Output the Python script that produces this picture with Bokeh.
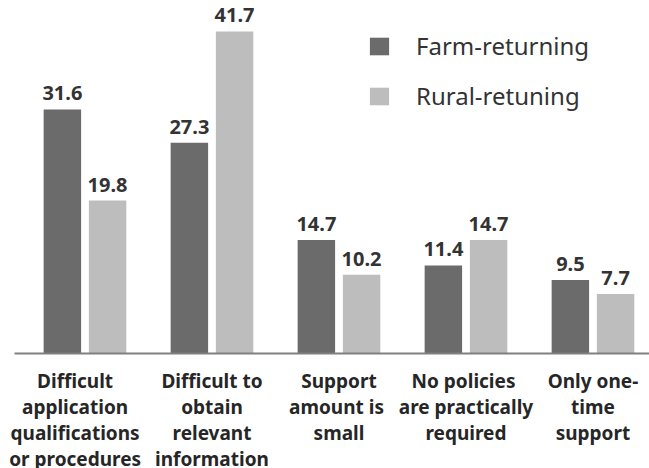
from bokeh.plotting import figure
from bokeh.models import ColumnDataSource, Range1d, FixedTicker, Legend, LegendItem
from bokeh.transform import dodge
from bokeh.core.properties import value
from bokeh.embed import file_html
from bokeh.resources import INLINE

categories = [
    "Difficult    \napplication    \nqualifications    \nor procedures    ",
    "Difficult to\nobtain\nrelevant\ninformation",
    "Support\namount  is\nsmall",
    "No  policies\nare practically\nrequired",
    "Only one-\ntime\nsupport",
]
farm = [31.6, 27.3, 14.7, 11.4, 9.5]
rural = [19.8, 41.7, 10.2, 14.7, 7.7]
series_names = ["Farm-returning", "Rural-retuning"]

xs = list(range(len(categories)))
src = ColumnDataSource(dict(
    x=xs, farm=farm, rural=rural,
    farm_lbl=[f"{v:.1f}" for v in farm],
    rural_lbl=[f"{v:.1f}" for v in rural],
))

DARK = "#6b6b6b"
LIGHT = "#bdbdbd"
FONT = "Noto Sans"

p = figure(
    frame_width=635, frame_height=353,
    x_range=Range1d(-0.555, 4.445), y_range=Range1d(0, 45.7),
    y_axis_location=None, toolbar_location=None, output_backend="svg",
    min_border_left=14, min_border_right=0, min_border_top=0, min_border_bottom=0,
)
p.outline_line_color = None
p.xgrid.visible = False
p.ygrid.visible = False
p.background_fill_color = "white"

r1 = p.vbar(x=dodge("x", -0.178, range=p.x_range), top="farm", width=0.295,
            source=src, fill_color=DARK, line_color=None)
r2 = p.vbar(x=dodge("x", 0.178, range=p.x_range), top="rural", width=0.295,
            source=src, fill_color=LIGHT, line_color=None)

for col, lbl, off in (("farm", "farm_lbl", -0.178), ("rural", "rural_lbl", 0.178)):
    p.text(x=dodge("x", off, range=p.x_range), y=col, text=lbl, source=src,
           text_align="center", text_baseline="bottom", y_offset=-9,
           text_font=value(FONT), text_font_style="bold",
           text_font_size="20px", text_color="#333333")

ax = p.xaxis[0]
ax.ticker = FixedTicker(ticks=xs)
ax.major_label_overrides = {i: c for i, c in zip(xs, categories)}
ax.axis_line_color = "#808080"
ax.axis_line_width = 2
ax.major_tick_line_color = None
ax.minor_tick_line_color = None
ax.major_label_standoff = 8
ax.major_label_text_font = FONT
ax.major_label_text_font_style = "bold"
ax.major_label_text_font_size = "19px"
ax.major_label_text_color = "#262626"
ax.major_label_text_line_height = 1.0

legend = Legend(
    items=[LegendItem(label=series_names[0], renderers=[r1]),
           LegendItem(label=series_names[1], renderers=[r2])],
    location=(353, 241), orientation="vertical",
    glyph_width=24, glyph_height=22, label_height=24, spacing=17,
    label_standoff=25, padding=0, margin=0,
    border_line_color=None, background_fill_alpha=0,
    label_text_font=FONT, label_text_font_size="24px", label_text_color="#333333",
)
p.add_layout(legend)

open("out.html", "w").write(file_html(p, INLINE))
